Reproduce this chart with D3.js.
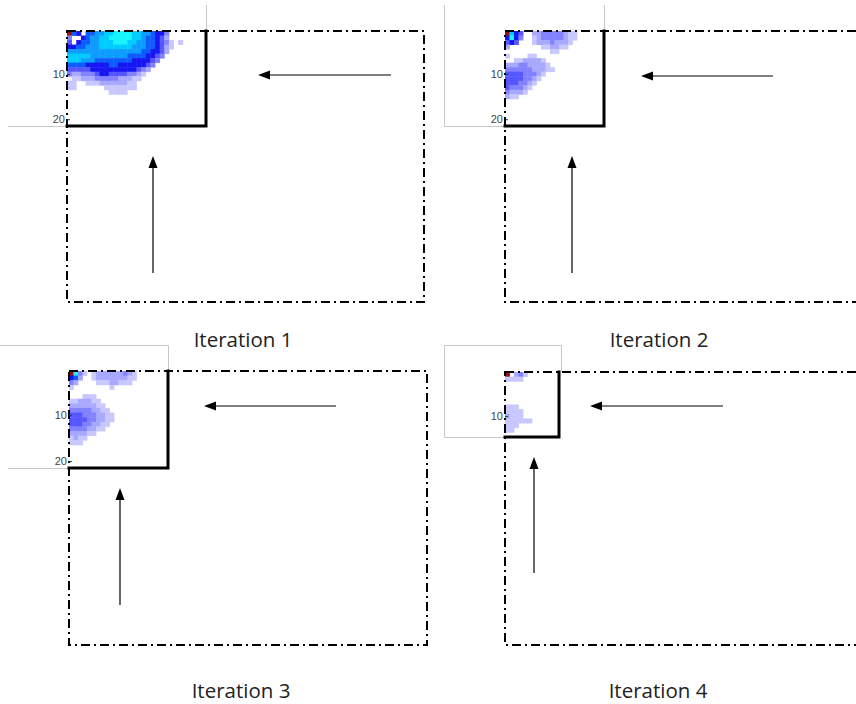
<!DOCTYPE html>
<html>
<head>
<meta charset="utf-8">
<script src="https://cdn.jsdelivr.net/npm/d3@7"></script>
<style>
  body { margin: 0; background: #fff; }
  svg { display: block; }
</style>
</head>
<body>
<svg id="fig" width="856" height="704"></svg>
<script>
// Cell intensity per iteration: "0" empty, "1".."9" low to high, "R" peak cell
const iter1Grid = [
  "R650667788" + "9999887765" + "5300000000",
  "3005677889" + "9999887665" + "4200000000",
  "4056677888" + "9998877665" + "4310100000",
  "5566777888" + "8888777665" + "4210000000",
  "7777777777" + "7777776655" + "4200000000",
  "8888877777" + "7776666554" + "3000000000",
  "8887776666" + "6666555543" + "0000000000",
  "6666555556" + "6555555430" + "0000000000",
  "4444455555" + "5555543200" + "0000000000",
  "3223334554" + "4443321000" + "0000000000",
  "0112223333" + "3222110000" + "0000000000",
  "1100111222" + "2221100000" + "0000000000",
  "1100000011" + "1111100000" + "0000000000",
  "0000000001" + "1110000000" + "0000000000",
  "0000000000" + "0000000000" + "0000000000",
  "0000000000" + "0000000000" + "0000000000",
  "0000000000" + "0000000000" + "0000000000",
  "0000000000" + "0000000000" + "0000000000",
  "0000000000" + "0000000000" + "0000000000",
  "0000000000" + "0000000000" + "0000000000",
  "0000000000" + "0000000000" + "0000000000"
];

const iter2Grid = [
  "R85400" + "2233333211" + "000000",
  "595300" + "1233333211" + "000000",
  "454000" + "1222322210" + "000000",
  "200000" + "0011221100" + "000000",
  "000000" + "0000110000" + "000000",
  "100001" + "1000000000" + "000000",
  "001122" + "2210000000" + "000000",
  "222332" + "2221000000" + "000000",
  "333333" + "2221100000" + "000000",
  "444433" + "3210000000" + "000000",
  "444433" + "2100000000" + "000000",
  "444332" + "1000000000" + "000000",
  "433321" + "0000000000" + "000000",
  "322210" + "0000000000" + "000000",
  "211000" + "0000000000" + "000000",
  "000000" + "0000000000" + "000000",
  "000000" + "0000000000" + "000000",
  "000000" + "0000000000" + "000000",
  "000000" + "0000000000" + "000000",
  "000000" + "0000000000" + "000000",
  "000000" + "0000000000" + "000000"
];

const iter3Grid = [
  "R93101" + "2222223210" + "000000",
  "562001" + "2222222110" + "000000",
  "320000" + "1112211100" + "000000",
  "100000" + "0001000000" + "000000",
  "000000" + "0000000000" + "000000",
  "000111" + "0000000000" + "000000",
  "112221" + "1000000000" + "000000",
  "222222" + "1100000000" + "000000",
  "333332" + "2110000000" + "000000",
  "444333" + "2211000000" + "000000",
  "444433" + "2211000000" + "000000",
  "444332" + "2110000000" + "000000",
  "333322" + "1100000000" + "000000",
  "222211" + "0000000000" + "000000",
  "121100" + "0000000000" + "000000",
  "111000" + "0000000000" + "000000",
  "000000" + "0000000000" + "000000",
  "000000" + "0000000000" + "000000",
  "000000" + "0000000000" + "000000",
  "000000" + "0000000000" + "000000",
  "000000" + "0000000000" + "000000"
];

const iter4Grid = [
  "R02310000000",
  "111100000000",
  "000000000000",
  "000000000000",
  "000000000000",
  "000000000000",
  "000000000000",
  "111000000000",
  "111100000000",
  "211100000000",
  "111111000000",
  "111000000000",
  "110000000000",
  "000000000000"
];

const rowTicks = [10, 20];
const iterationLabels = ["Iteration 1", "Iteration 2", "Iteration 3", "Iteration 4"];

// Colour for each intensity level
const levelKeys = ["1", "2", "3", "4", "5", "6", "7", "8", "9", "R"];
const levelColors = ["#c8c8ff", "#a8a8ff", "#8282ff", "#5656ff", "#1414f2",
                     "#0a5cff", "#0a9cff", "#00ccff", "#14f4ff", "#a01010"];
const colour = d3.scaleOrdinal().domain(levelKeys).range(levelColors);

// Page layout of each panel: heat-map box, dash-dot region, arrows, frame lines
const panels = [
  { grid: iter1Grid, box: [67, 31, 206, 126], region: [67, 31, 424, 302],
    hArrow: { y: 75, from: 391, to: 258 }, vArrow: { x: 153, from: 273, to: 156 },
    frame: [[206.5, 5, 206.5, 31], [8, 126.5, 67, 126.5]], label: [243, 347] },
  { grid: iter2Grid, box: [505, 31, 604, 126], region: [505, 31, 880, 302],
    hArrow: { y: 76, from: 773, to: 641 }, vArrow: { x: 572, from: 273, to: 156 },
    frame: [[444.5, 5, 444.5, 126.5], [444.5, 126.5, 505, 126.5], [604.5, 5, 604.5, 31]], label: [659, 347] },
  { grid: iter3Grid, box: [69, 371, 168, 468], region: [69, 371, 427, 645],
    hArrow: { y: 406, from: 336, to: 204 }, vArrow: { x: 120, from: 605, to: 488 },
    frame: [[0, 345.5, 168.5, 345.5], [168.5, 345.5, 168.5, 371], [8, 468.5, 69, 468.5]], label: [241, 698] },
  { grid: iter4Grid, box: [505, 372, 559, 437], region: [505, 372, 880, 645],
    hArrow: { y: 406, from: 723, to: 590 }, vArrow: { x: 534, from: 573, to: 457 },
    frame: [[444.5, 345.5, 561.5, 345.5], [444.5, 345.5, 444.5, 437.5], [444.5, 437.5, 505, 437.5], [561.5, 345.5, 561.5, 372]], label: [658, 698] }
];

const svg = d3.select("#fig");
svg.append("rect").attr("width", 856).attr("height", 704).attr("fill", "#fff");

const defs = svg.append("defs");
defs.append("filter").attr("id", "soft")
  .attr("x", "-5%").attr("y", "-5%").attr("width", "110%").attr("height", "110%")
  .append("feGaussianBlur").attr("stdDeviation", 0.6);

function arrowHead(g, tip, dir) {
  // dir: unit vector pointing towards the tip
  const len = 12, half = 4.5;
  const bx = tip[0] - dir[0] * len, by = tip[1] - dir[1] * len;
  const px = -dir[1], py = dir[0];
  g.append("path")
    .attr("d", `M${tip[0]},${tip[1]}L${bx + px * half},${by + py * half}L${bx - px * half},${by - py * half}Z`)
    .attr("fill", "#000");
}

panels.forEach((p, i) => {
  const g = svg.append("g");
  const rows = p.grid.length, cols = p.grid[0].length;
  const [bx0, by0, bx1, by1] = p.box;

  // thin grey frame pieces of the embedded axes
  g.selectAll("line.frame").data(p.frame).join("line")
    .attr("x1", d => d[0]).attr("y1", d => d[1])
    .attr("x2", d => d[2]).attr("y2", d => d[3])
    .attr("stroke", "#c8c8c8").attr("stroke-width", 1);

  // heat-map cells
  const x = d3.scaleBand().domain(d3.range(cols)).range([bx0, bx1]);
  const y = d3.scaleBand().domain(d3.range(rows)).range([by0, by1]);
  const cells = [];
  p.grid.forEach((row, r) => row.split("").forEach((v, c) => {
    if (v !== "0") cells.push({ r, c, v });
  }));
  g.append("g").attr("filter", "url(#soft)")
    .selectAll("rect").data(cells).join("rect")
    .attr("x", d => x(d.c)).attr("y", d => y(d.r))
    .attr("width", x.bandwidth() + 0.4).attr("height", y.bandwidth() + 0.4)
    .attr("fill", d => colour(d.v));

  // dash-dot search region
  const [rx0, ry0, rx1, ry1] = p.region;
  g.append("rect")
    .attr("x", rx0).attr("y", ry0).attr("width", rx1 - rx0).attr("height", ry1 - ry0)
    .attr("fill", "none").attr("stroke", "#000").attr("stroke-width", 2)
    .attr("stroke-dasharray", "9,4,2,4");

  // solid bottom/right edges of the current window
  g.append("path")
    .attr("d", `M${bx0},${by1}L${bx1},${by1}L${bx1},${by0}`)
    .attr("fill", "none").attr("stroke", "#000").attr("stroke-width", 3)
    .attr("stroke-linecap", "square");

  // row ticks
  const yLin = d3.scaleLinear().domain([0.5, rows + 0.5]).range([by0, by1]);
  const axis = d3.axisLeft(yLin)
    .tickValues(rowTicks.filter(t => t <= rows))
    .tickSizeInner(-3).tickSizeOuter(0).tickPadding(2);
  const ax = g.append("g").attr("transform", `translate(${bx0},0)`).call(axis);
  ax.select(".domain").remove();
  ax.selectAll("line").attr("stroke", "#333");
  ax.selectAll("text").attr("fill", "#444")
    .style("font-family", "'Liberation Sans', Arial, sans-serif").style("font-size", "11px");

  // arrows
  g.append("line").attr("x1", p.hArrow.from).attr("x2", p.hArrow.to + 6)
    .attr("y1", p.hArrow.y).attr("y2", p.hArrow.y).attr("stroke", "#000").attr("stroke-width", 1.2);
  arrowHead(g, [p.hArrow.to, p.hArrow.y], [-1, 0]);
  g.append("line").attr("x1", p.vArrow.x).attr("x2", p.vArrow.x)
    .attr("y1", p.vArrow.from).attr("y2", p.vArrow.to + 6).attr("stroke", "#000").attr("stroke-width", 1.2);
  arrowHead(g, [p.vArrow.x, p.vArrow.to], [0, -1]);

  // caption
  g.append("text")
    .attr("x", p.label[0]).attr("y", p.label[1])
    .attr("text-anchor", "middle")
    .style("font-family", "'Open Sans', 'Noto Sans', sans-serif")
    .style("font-size", "20.5px").attr("fill", "#222")
    .text(iterationLabels[i]);
});
</script>
</body>
</html>
